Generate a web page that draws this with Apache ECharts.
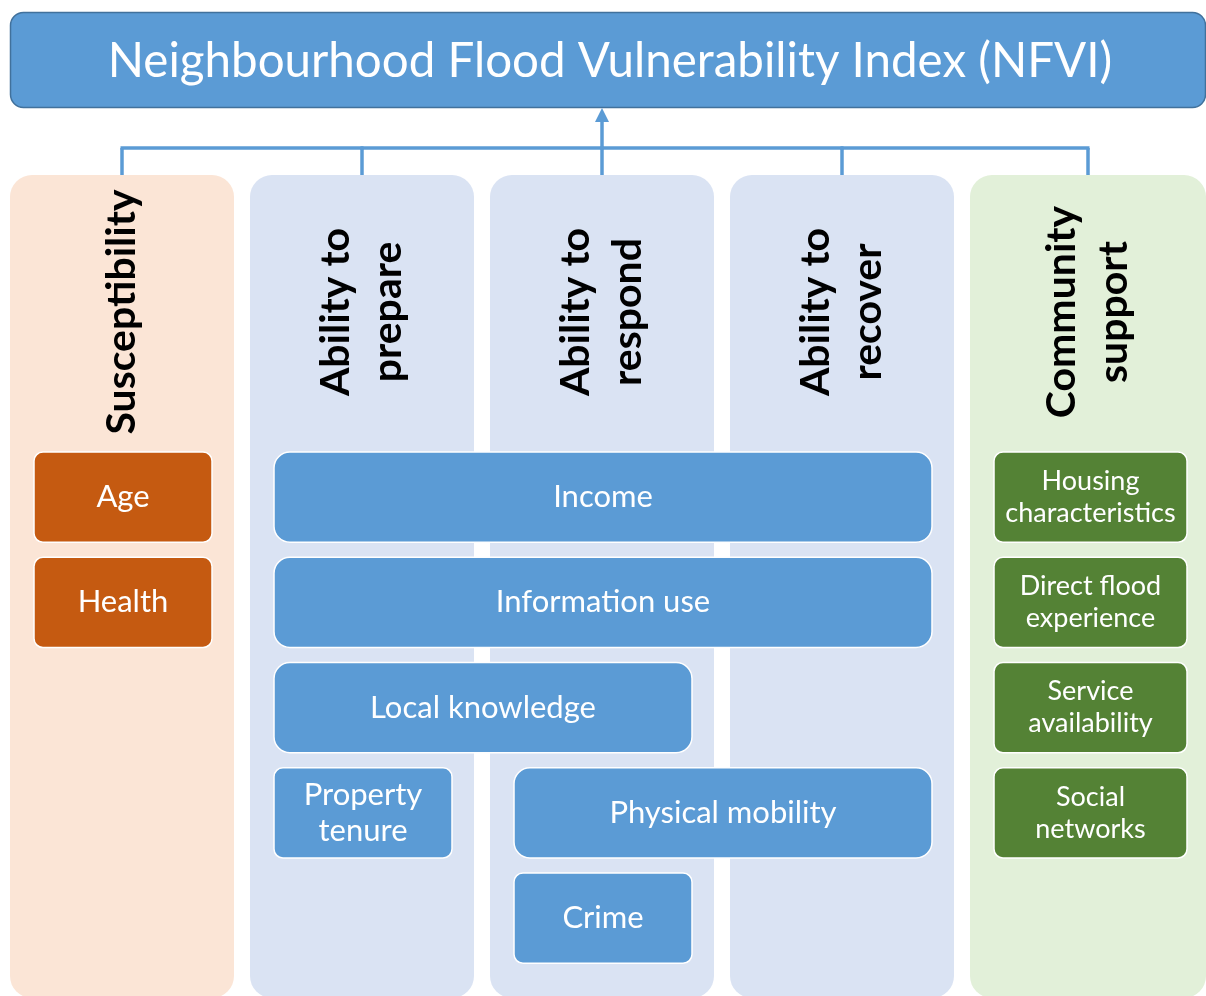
<!DOCTYPE html>
<html>
<head>
<meta charset="utf-8">
<title>NFVI</title>
<script src="https://cdn.jsdelivr.net/npm/echarts@6/dist/echarts.min.js"></script>
<style>
    html, body { margin: 0; padding: 0; background: #fff; }
    #chart { width: 1206px; height: 996px; }
</style>
</head>
<body>
<div id="chart"></div>
<script>
// ---- data ----
const titleText = "Neighbourhood Flood Vulnerability Index (NFVI)"
const dimensions = ["Susceptibility", "Ability to\nprepare", "Ability to\nrespond", "Ability to\nrecover", "Community\nsupport"]
const indicators = [
    "Age", "Health",
    "Income", "Information use", "Local knowledge", "Property\ntenure", "Physical mobility", "Crime",
    "Housing\ncharacteristics", "Direct flood\nexperience", "Service\navailability", "Social\nnetworks",
]
// first / last dimension column an indicator spans, and its row
const indicatorFirstCol = [0, 0, 1, 1, 1, 1, 2, 2, 4, 4, 4, 4]
const indicatorLastCol = [0, 0, 3, 3, 2, 1, 3, 2, 4, 4, 4, 4]
const indicatorRow = [0, 1, 0, 1, 2, 3, 3, 4, 0, 1, 2, 3]

// ---- layout / style ----
const FONT = "Lato, 'Open Sans', sans-serif"
const BLUE = "#5B9BD5"
const colBg = (i) => (i === 0 ? "#FBE5D6" : i === dimensions.length - 1 ? "#E2F0D9" : "#DAE3F3")
const boxFill = (i) => (i === 0 ? "#C55A11" : i === dimensions.length - 1 ? "#548235" : BLUE)
const COL_W = 224
const COL_W_LAST = 236
const COL_TOP = 175
const COL_BOTTOM = 998
const BUS_Y = 148
const TITLE_BOTTOM = 107
const HEADER_Y = 312
const ROW_GAP = 15
const BOX_FONT = 31

function colWidth(i) {
    return i === dimensions.length - 1 ? COL_W_LAST : COL_W
}
function boxInsetRight(i) {
    return i === dimensions.length - 1 ? 19 : 22
}

const measureCtx = document.createElement("canvas").getContext("2d")
function fitFont(text, maxW) {
    measureCtx.font = BOX_FONT + "px " + FONT
    const w = Math.max(...text.split("\n").map((t) => measureCtx.measureText(t).width))
    return w > maxW ? Math.floor((BOX_FONT * maxW) / w) : BOX_FONT
}
// boxes that start in the same column share one (autofit) font size
function groupFont(first) {
    let fs = BOX_FONT
    indicators.forEach((t, j) => {
        if (indicatorFirstCol[j] !== first) return
        const span = (indicatorLastCol[j] - first) * 240 + colWidth(indicatorLastCol[j]) - 24 - boxInsetRight(indicatorLastCol[j])
        fs = Math.min(fs, fitFont(t, span - 20))
    })
    return fs
}

function renderDimension(params, api) {
    const i = api.value(0)
    const left = api.coord([i, 0])[0]
    const w = colWidth(i)
    const cx = left + w / 2
    const children = [
        {
            type: "rect",
            shape: { x: left, y: COL_TOP, width: w, height: COL_BOTTOM - COL_TOP, r: 22 },
            style: { fill: colBg(i) },
        },
        {
            type: "text",
            x: cx,
            y: HEADER_Y,
            rotation: Math.PI / 2,
            style: {
                text: dimensions[i],
                fill: "#000",
                font: "bold 41px " + FONT,
                lineHeight: 52,
                align: "center",
                verticalAlign: "middle",
            },
        },
    ]
    if (i === Math.floor(dimensions.length / 2)) {
        children.push({
            type: "line",
            shape: { x1: cx, y1: COL_TOP, x2: cx, y2: TITLE_BOTTOM + 12 },
            style: { stroke: BLUE, lineWidth: 3.5 },
        })
        children.push({
            type: "polygon",
            shape: { points: [[cx - 7, TITLE_BOTTOM + 15], [cx + 7, TITLE_BOTTOM + 15], [cx, TITLE_BOTTOM + 1]] },
            style: { fill: BLUE },
        })
    } else {
        children.push({
            type: "line",
            shape: { x1: cx, y1: BUS_Y, x2: cx, y2: COL_TOP },
            style: { stroke: BLUE, lineWidth: 3.5 },
        })
    }
    if (i < dimensions.length - 1) {
        const nx = api.coord([i + 1, 0])[0] + colWidth(i + 1) / 2
        children.push({
            type: "line",
            shape: { x1: cx - 1.5, y1: BUS_Y, x2: nx + 1.5, y2: BUS_Y },
            style: { stroke: BLUE, lineWidth: 3.5 },
        })
    }
    return { type: "group", children }
}

function renderIndicator(params, api) {
    const first = api.value(0)
    const last = api.value(1)
    const row = api.value(2)
    const x0 = api.coord([first, row])[0] + 24
    const x1 = api.coord([last, row])[0] + colWidth(last) - boxInsetRight(last)
    const y0 = api.coord([first, row])[1]
    const y1 = api.coord([first, row + 1])[1] - ROW_GAP
    const text = indicators[params.dataIndex]
    const fs = groupFont(first)
    return {
        type: "group",
        children: [
            {
                type: "rect",
                shape: { x: x0, y: y0, width: x1 - x0, height: y1 - y0, r: first === last ? 9 : 16 },
                style: { fill: boxFill(first), stroke: "#fff", lineWidth: 1.5 },
            },
            {
                type: "text",
                x: (x0 + x1) / 2,
                y: (y0 + y1) / 2,
                style: {
                    text,
                    fill: "#fff",
                    font: fs + "px " + FONT,
                    lineHeight: Math.round(fs * 1.1) + 2,
                    align: "center",
                    verticalAlign: "middle",
                },
            },
        ],
    }
}

const chart = echarts.init(document.getElementById("chart"))
chart.setOption({
    animation: false,
    grid: { left: 10, top: 452, width: 960, height: 526.25 },
    xAxis: { type: "value", min: 0, max: 4, show: false },
    yAxis: { type: "value", min: 0, max: 5, inverse: true, show: false },
    graphic: [
        {
            type: "group",
            children: [
                {
                    type: "rect",
                    shape: { x: 10.5, y: 12.5, width: 1195, height: 95, r: 13 },
                    style: { fill: BLUE, stroke: "#41719C", lineWidth: 1.5 },
                },
                {
                    type: "text",
                    x: 610,
                    y: 62,
                    style: {
                        text: titleText,
                        fill: "#fff",
                        font: "47.5px " + FONT,
                        align: "center",
                        verticalAlign: "middle",
                    },
                },
            ],
        },
    ],
    series: [
        {
            type: "custom",
            renderItem: renderDimension,
            data: dimensions.map((d, i) => [i]),
            silent: true,
            clip: false,
        },
        {
            type: "custom",
            renderItem: renderIndicator,
            data: indicators.map((name, k) => ({ name, value: [indicatorFirstCol[k], indicatorLastCol[k], indicatorRow[k]] })),
            silent: true,
            clip: false,
        },
    ],
})
</script>
</body>
</html>
